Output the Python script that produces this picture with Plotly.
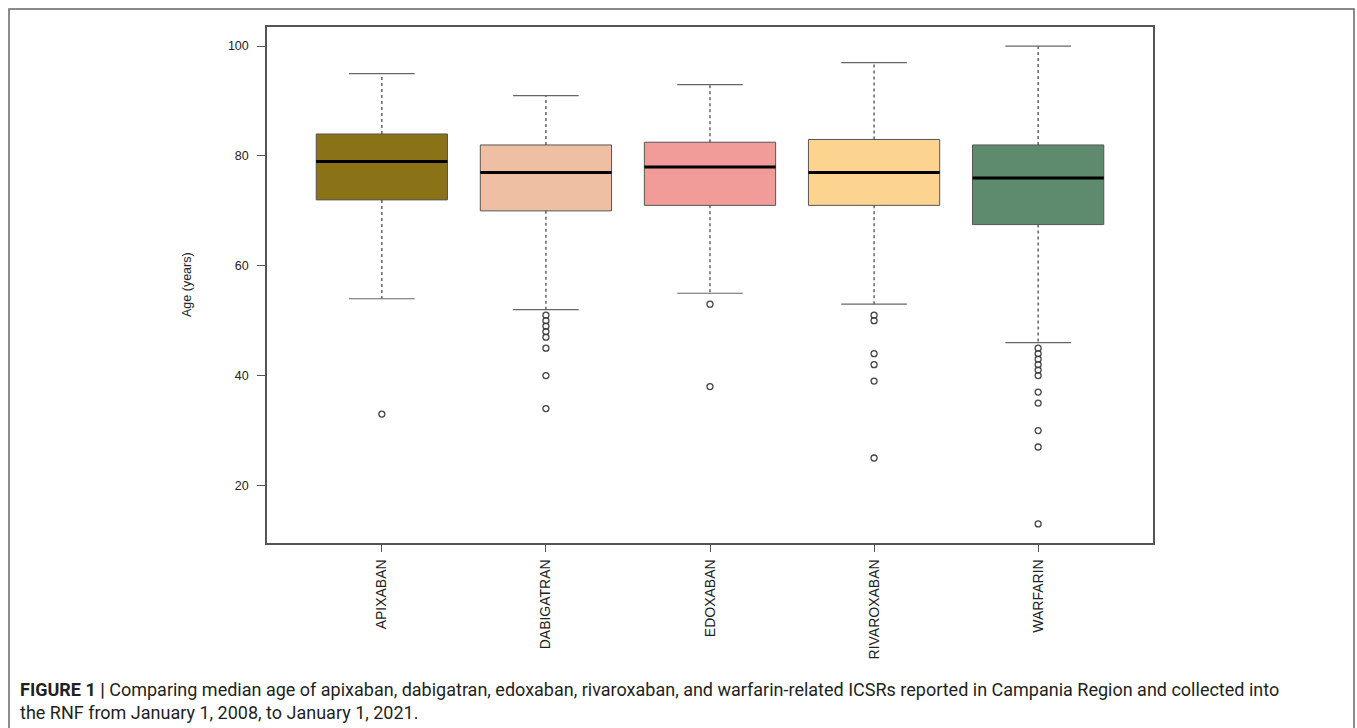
import plotly.graph_objects as go

# Five-number summaries of patient age per anticoagulant
drugs = ["APIXABAN", "DABIGATRAN", "EDOXABAN", "RIVAROXABAN", "WARFARIN"]
lower_whisker = [54, 52, 55, 53, 46]
q1 = [72, 70, 71, 71, 67.5]
median = [79, 77, 78, 77, 76]
q3 = [84, 82, 82.5, 83, 82]
upper_whisker = [95, 91, 93, 97, 100]

# Outlying ages per drug
apixaban_outliers = [33]
dabigatran_outliers = [51, 50, 49, 48, 47, 45, 40, 34]
edoxaban_outliers = [53, 38]
rivaroxaban_outliers = [51, 50, 44, 42, 39, 25]
warfarin_outliers = [45, 44, 43, 42, 41, 40, 37, 35, 30, 27, 13]
outliers = [apixaban_outliers, dabigatran_outliers, edoxaban_outliers,
            rivaroxaban_outliers, warfarin_outliers]

colors = ["#8A7316", "#EFBFA3", "#F19C98", "#FCD48F", "#5E8B6D"]

BOX_HALF = 0.4     # boxwex 0.8
CAP_HALF = 0.2     # staplewex 0.5
EDGE = "#555555"

fig = go.Figure()

positions = list(range(1, len(drugs) + 1))

# Boxes (Q1..Q3) as filled rectangles
for pos, name, lo, hi, col in zip(positions, drugs, q1, q3, colors):
    fig.add_trace(go.Scatter(
        x=[pos - BOX_HALF, pos + BOX_HALF, pos + BOX_HALF, pos - BOX_HALF, pos - BOX_HALF],
        y=[lo, lo, hi, hi, lo],
        mode="lines", fill="toself", fillcolor=col,
        line=dict(color=EDGE, width=1), name=name, showlegend=False,
        hoverinfo="skip"))

# Dashed whiskers
wx, wy = [], []
for pos, lw, a, b, uw in zip(positions, lower_whisker, q1, q3, upper_whisker):
    wx += [pos, pos, None, pos, pos, None]
    wy += [b, uw, None, a, lw, None]
fig.add_trace(go.Scatter(x=wx, y=wy, mode="lines",
                         line=dict(color="#4a4a4a", width=1.3, dash="3px,3px"),
                         showlegend=False, hoverinfo="skip"))

# Whisker caps
cx, cy = [], []
for pos, lw, uw in zip(positions, lower_whisker, upper_whisker):
    cx += [pos - CAP_HALF, pos + CAP_HALF, None, pos - CAP_HALF, pos + CAP_HALF, None]
    cy += [uw, uw, None, lw, lw, None]
fig.add_trace(go.Scatter(x=cx, y=cy, mode="lines",
                         line=dict(color="#666666", width=1.2),
                         showlegend=False, hoverinfo="skip"))

# Median bars
mx, my = [], []
for pos, m in zip(positions, median):
    mx += [pos - BOX_HALF, pos + BOX_HALF, None]
    my += [m, m, None]
fig.add_trace(go.Scatter(x=mx, y=my, mode="lines",
                         line=dict(color="#000000", width=3),
                         showlegend=False, hoverinfo="skip"))

# Outlier points
ox, oy = [], []
for pos, pts in zip(positions, outliers):
    ox += [pos] * len(pts)
    oy += pts
fig.add_trace(go.Scatter(x=ox, y=oy, mode="markers",
                         marker=dict(symbol="circle-open", size=6,
                                     color="#444444", line=dict(width=1.3)),
                         showlegend=False, hoverinfo="skip"))

FAMILY = "Liberation Sans, Arial, Helvetica, sans-serif"
y_font = dict(family=FAMILY, size=12.5, color="#222222")
x_font = dict(family=FAMILY, size=14, color="#222222")

fig.update_layout(
    width=1357, height=728,
    margin=dict(l=267, r=204, t=27, b=185),
    paper_bgcolor="white", plot_bgcolor="white",
    showlegend=False,
    xaxis=dict(
        range=[0.3, 5.7], tickmode="array", tickvals=positions, ticktext=drugs,
        tickangle=-90, ticks="outside", ticklen=7, tickcolor=EDGE, tickwidth=1.2,
        ticklabelstandoff=2,
        showline=True, linecolor=EDGE, linewidth=1.5, mirror=True,
        showgrid=False, zeroline=False, tickfont=x_font),
    yaxis=dict(
        range=[9.52, 103.48], tickmode="array", tickvals=[20, 40, 60, 80, 100],
        ticks="outside", ticklen=8, tickcolor=EDGE, tickwidth=1.2,
        ticklabelstandoff=6,
        showline=True, linecolor=EDGE, linewidth=1.5, mirror=True,
        showgrid=False, zeroline=False, tickfont=y_font),
    annotations=[
        dict(text="Age (years)", textangle=-90, xref="paper", yref="paper",
             x=(187 - 267) / 886, y=0.5, xanchor="center", yanchor="middle",
             showarrow=False, font=dict(family=FAMILY, size=12.5, color="#222222")),
        dict(text="<b>FIGURE 1 |</b> Comparing median age of apixaban, dabigatran, edoxaban, "
                  "rivaroxaban, and warfarin-related ICSRs reported in Campania Region and collected into"
                  "<br>the RNF from January 1, 2008, to January 1, 2021.",
             xref="paper", yref="paper",
             x=(18 - 267) / 886, y=(543 - 677) / 516, xanchor="left", yanchor="top",
             align="left", showarrow=False,
             font=dict(family="Liberation Sans Narrow, Arial Narrow, Roboto, sans-serif",
                       size=18, color="#231F20")),
    ],
    shapes=[
        # Outer figure frame
        dict(type="rect", xref="paper", yref="paper",
             x0=(9 - 267) / 886, x1=(1354 - 267) / 886,
             y0=(543 - 760) / 516, y1=(543 - 9) / 516,
             line=dict(color="#666666", width=1.5), fillcolor="rgba(0,0,0,0)",
             layer="below"),
    ],
)

fig.write_html("out.html")
